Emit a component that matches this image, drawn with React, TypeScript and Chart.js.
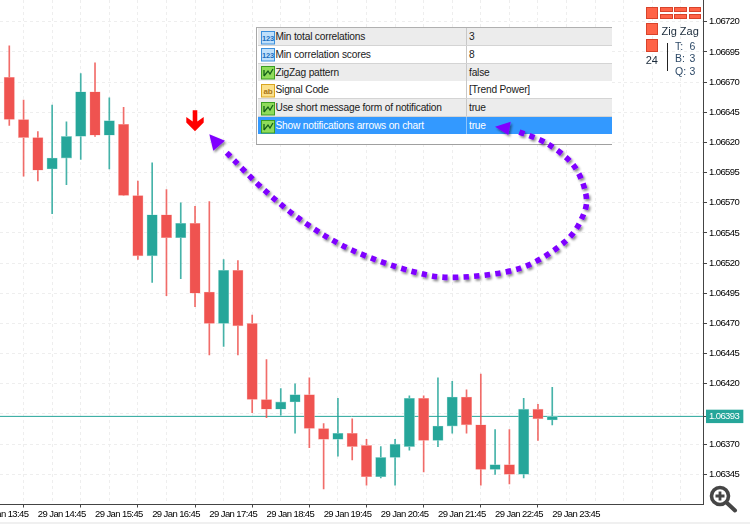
import React, { useEffect, useRef } from "react";
import { Chart, registerables } from "chart.js";

Chart.register(...registerables);

const UP = "#26A69A";
const DOWN = "#EF5350";
const UP_WICK = "rgba(38,166,154,0.85)";
const DOWN_WICK = "rgba(239,83,80,0.85)";
const AXIS_FONT = '"Liberation Sans", sans-serif';

const opens = [1.06674,1.06639,1.06624,1.06598,1.06607,1.06625,1.06662,1.06626,1.06635,1.06576,1.06526,1.06560,1.06541,1.06553,1.06496,1.06470,1.06514,1.06470,1.06407,1.06399,1.06405,1.06411,1.06383,1.06374,1.06379,1.06369,1.06343,1.06359,1.06368,1.06408,1.06373,1.06385,1.06409,1.06386,1.06349,1.06353,1.06345,1.06399,1.06390];
const closes = [1.06639,1.06624,1.06597,1.06607,1.06625,1.06662,1.06626,1.06638,1.06576,1.06526,1.06560,1.06541,1.06553,1.06495,1.06470,1.06514,1.06468,1.06407,1.06399,1.06405,1.06411,1.06383,1.06374,1.06379,1.06368,1.06343,1.06359,1.06370,1.06408,1.06373,1.06385,1.06409,1.06386,1.06349,1.06353,1.06345,1.06399,1.06391,1.06393];
const highs = [1.06700,1.06655,1.06629,1.06651,1.06637,1.06677,1.06686,1.06657,1.06649,1.06588,1.06603,1.06581,1.06570,1.06567,1.06571,1.06523,1.06522,1.06477,1.06440,1.06416,1.06420,1.06425,1.06387,1.06408,1.06391,1.06374,1.06368,1.06374,1.06410,1.06410,1.06425,1.06422,1.06415,1.06428,1.06382,1.06382,1.06408,1.06403,1.06417];
const lows = [1.06634,1.06592,1.06588,1.06561,1.06585,1.06606,1.06625,1.06598,1.06576,1.06523,1.06504,1.06493,1.06507,1.06484,1.06444,1.06451,1.06444,1.06396,1.06392,1.06394,1.06379,1.06367,1.06333,1.06360,1.06357,1.06336,1.06342,1.06336,1.06365,1.06347,1.06368,1.06379,1.06379,1.06336,1.06345,1.06337,1.06342,1.06373,1.06386];

const currentPrice = 1.06393;
const yTickValues = [1.06345,1.06370,1.06395,1.06420,1.06445,1.06470,1.06495,1.06520,1.06545,1.06570,1.06595,1.06620,1.06645,1.06670,1.06695,1.06720];
const timeLabels = ["29 Jan 13:45","29 Jan 14:45","29 Jan 15:45","29 Jan 16:45","29 Jan 17:45","29 Jan 18:45","29 Jan 19:45","29 Jan 20:45","29 Jan 21:45","29 Jan 22:45","29 Jan 23:45"];

const paramNames = ["Min total correlations","Min correlation scores","ZigZag pattern","Signal Code","Use short message form of notification","Show notifications arrows on chart"];
const paramValues = ["3","8","false","[Trend Power]","true","true"];
const paramKinds = ["num","num","bool","text","bool","bool"];
const statNames = ["T:","B:","Q:"];
const statValues = ["6","3","3"];

const curveA: [number, number][] = [[226.7,152.7],[265,190.7],[306.7,224],[353.3,250.7],[413.3,271.7],[456.7,277.3],[520,268.3],[565,241.7],[583.3,215],[585.7,193.3],[573.3,165],[546.7,143.3],[518.3,131.7]];

function smooth(p: [number, number][]) {
  let d = `M${p[0][0]},${p[0][1]}`;
  for (let i = 0; i < p.length - 1; i++) {
    const a = p[Math.max(i - 1, 0)], b = p[i], c = p[i + 1], e = p[Math.min(i + 2, p.length - 1)];
    d += ` C${b[0] + (c[0] - a[0]) / 6},${b[1] + (c[1] - a[1]) / 6} ${c[0] - (e[0] - b[0]) / 6},${c[1] - (e[1] - b[1]) / 6} ${c[0]},${c[1]}`;
  }
  return d;
}

function ParamIcon({ kind }: { kind: string }) {
  const style: React.CSSProperties = { position: "absolute", left: 3, top: 1.5 };
  if (kind === "num") {
    return (
      <svg width={15} height={15} style={style}>
        <rect x={0.5} y={1.5} width={13} height={12.5} fill="#bfe0fb" stroke="#3b8fdc" />
        <text x={7} y={11} fontSize={7.5} fontWeight="bold" textAnchor="middle" fill="#1c6fc0" fontFamily="Liberation Sans">123</text>
      </svg>
    );
  }
  if (kind === "text") {
    return (
      <svg width={15} height={15} style={style}>
        <rect x={0.5} y={1.5} width={13} height={12.5} fill="#fbe08a" stroke="#d9a520" />
        <text x={7} y={11} fontSize={8} fontWeight="bold" textAnchor="middle" fill="#a9761a" fontFamily="Liberation Sans">ab</text>
      </svg>
    );
  }
  return (
    <svg width={15} height={15} style={style}>
      <rect x={0.5} y={1.5} width={13} height={12.5} fill="#8fdc5a" stroke="#3c9e22" />
      <path d="M3 11 L3 5 M3 11 L7 6 L9 9 L12 4" stroke="#15611a" strokeWidth={1.3} fill="none" />
    </svg>
  );
}

function Square({ x, y, w, h }: { x: number; y: number; w: number; h: number }) {
  return <div style={{ position: "absolute", left: x, top: y, width: w, height: h, boxSizing: "border-box", background: "#FF6347", border: "1px solid #D8432B" }} />;
}

const tightText = {
  id: "tightText",
  beforeDraw(chart: any) {
    chart.ctx.letterSpacing = "-0.6px";
  },
};

export default function App() {
  const ref = useRef<HTMLCanvasElement>(null);

  useEffect(() => {
    const idx = opens.map((_, i) => i);
    const chart = new Chart(ref.current as HTMLCanvasElement, {
      type: "bar",
      plugins: [tightText],
      data: {
        datasets: [
          {
            type: "bar",
            data: idx.map((i) => ({ x: i, y: [opens[i], closes[i]] })),
            backgroundColor: idx.map((i) => (closes[i] >= opens[i] ? UP : DOWN)),
            borderColor: idx.map((i) => (closes[i] >= opens[i] ? "rgba(150,215,208,0.9)" : "rgba(250,175,172,0.9)")),
            borderWidth: 0.6,
            borderSkipped: false,
            barThickness: 10.4,
            grouped: false,
            order: 1,
          },
          {
            type: "bar",
            data: idx.map((i) => ({ x: i, y: [lows[i], highs[i]] })),
            backgroundColor: idx.map((i) => (closes[i] >= opens[i] ? UP_WICK : DOWN_WICK)),
            barThickness: 1,
            grouped: false,
            order: 2,
          },
          {
            type: "line",
            data: [{ x: -1, y: currentPrice }, { x: 49, y: currentPrice }],
            borderColor: UP,
            borderWidth: 1,
            pointRadius: 0,
            order: 3,
          },
        ],
      } as any,
      options: {
        animation: false,
        responsive: false,
        events: [],
        layout: { padding: 0 },
        plugins: { legend: { display: false }, tooltip: { enabled: false } },
        scales: {
          x: {
            type: "linear",
            min: -0.65,
            max: 48.55,
            offset: false,
            afterBuildTicks: (s: any) => {
              const t = [];
              for (let v = -2; v <= 48; v += 2) t.push({ value: v });
              s.ticks = t;
            },
            afterFit: (s: any) => {
              s.height = 19.5;
              s.paddingLeft = 0;
              s.paddingRight = 0;
            },
            border: { color: "#444", width: 1, dash: [3, 3] },
            grid: {
              color: "#eeeeee",
              tickLength: 3,
              tickColor: (c: any) => (c.tick && (c.tick.value + 2) % 4 === 0 && c.tick.value <= 38 ? "#444" : "transparent"),
            },
            ticks: {
              autoSkip: false,
              maxRotation: 0,
              minRotation: 0,
              align: "start",
              padding: 1,
              color: "#000",
              font: { family: AXIS_FONT, size: 9.5 },
              callback: (v: any) => timeLabels[(v + 2) / 4] ?? "",
            },
          },
          y: {
            position: "right",
            min: 1.0672 - (504.5 - 21.7) / 120700,
            max: 1.0672 + 21.7 / 120700,
            afterBuildTicks: (s: any) => {
              s.ticks = [...yTickValues, currentPrice].map((value) => ({ value }));
            },
            afterFit: (s: any) => {
              s.width = 47;
              s.paddingTop = 0;
              s.paddingBottom = 0;
            },
            border: { color: "#444", width: 1, dash: [3, 3] },
            grid: {
              color: (c: any) => (c.tick && c.tick.value === currentPrice ? "transparent" : "#eeeeee"),
              tickLength: 4,
              tickColor: (c: any) => (c.tick && c.tick.value === 1.06395 ? "transparent" : "#444"),
            },
            ticks: {
              autoSkip: false,
              padding: 2,
              color: (c: any) => (c.tick && c.tick.value === currentPrice ? "#fff" : "#000"),
              font: { family: AXIS_FONT, size: 9.5 },
              showLabelBackdrop: (c: any) => !!(c.tick && c.tick.value === currentPrice),
              backdropColor: UP,
              backdropPadding: { left: 3, right: 0, top: 1, bottom: 1 },
              callback: (v: any) => (v === 1.06395 ? "" : Number(v).toFixed(5)),
            },
          },
        },
      } as any,
    });
    return () => chart.destroy();
  }, []);

  return (
    <div style={{ position: "absolute", left: 0, top: 0, width: 750, height: 524, overflow: "hidden", background: "#fff", fontFamily: '"Liberation Sans", sans-serif' }}>
      <canvas ref={ref} width={750} height={524} style={{ position: "absolute", left: 0, top: 0 }} />

      <div style={{ position: "absolute", left: 256, top: 27, width: 356, height: 117.5, boxSizing: "border-box", background: "#fff", borderLeft: "1px solid #a8a8a8", borderTop: "1px solid #b0b0b0", borderBottom: "1.5px solid #a0a0a0" }}>
        {paramNames.map((name, i) => {
          const sel = i === paramNames.length - 1;
          return (
            <div key={name} style={{ position: "absolute", left: 1, right: 0, top: i * 17.83, height: 17, background: sel ? "#3399FF" : i % 2 === 0 ? "#ECECEC" : "#fff", borderBottom: sel ? "none" : "1px solid #d4d4d4", color: sel ? "#fff" : "#1a1a1a", fontSize: 10.2, letterSpacing: "-0.2px", lineHeight: "17px" }}>
              <ParamIcon kind={paramKinds[i]} />
              <span style={{ position: "absolute", left: 17.5, whiteSpace: "nowrap" }}>{name}</span>
              <div style={{ position: "absolute", left: 208, top: 0, bottom: 0, width: 1, background: sel ? "#8cc4fb" : "#c8c8c8" }} />
              <span style={{ position: "absolute", left: 211, whiteSpace: "nowrap" }}>{paramValues[i]}</span>
            </div>
          );
        })}
      </div>

      <svg width={750} height={524} style={{ position: "absolute", left: 0, top: 0, pointerEvents: "none" }}>
        <defs>
          <filter id="sh" x="-10%" y="-10%" width="120%" height="120%">
            <feDropShadow dx={1.5} dy={2} stdDeviation={1.3} floodColor="#000" floodOpacity={0.45} />
          </filter>
        </defs>
        <g filter="url(#sh)">
          <path d={smooth(curveA)} fill="none" stroke="#7F00FF" strokeWidth={5.6} strokeDasharray="5.4 5.2" />
          <polygon points="209.3,134.3 225,140.7 213.3,150.7" fill="#7F00FF" />
          <polygon points="495,126.7 510.7,121.7 508.3,135" fill="#7F00FF" />
        </g>
        <polygon points="192.7,110.3 197.3,110.3 197.3,121.5 203.7,117 203.7,122.5 195,131.3 186.3,122.5 186.3,117 192.7,121.5" fill="#FF0000" />
        <circle cx={720} cy={496} r={8.5} fill="#fff" stroke="#454545" strokeWidth={3.6} />
        <path d="M715.5 496 H724.5 M720 491.5 V500.5" stroke="#454545" strokeWidth={2.8} />
        <path d="M727 503 L735 510.5" stroke="#454545" strokeWidth={4} strokeLinecap="round" />
      </svg>

      <Square x={645.7} y={7.3} w={12.5} h={12} />
      {[660, 674.3, 688.7].map((x) => [7.3, 14.3].map((y) => <Square key={`${x}-${y}`} x={x} y={y} w={12.7} h={5.2} />))}
      <Square x={645.7} y={23.3} w={12.5} h={12} />
      <Square x={645.7} y={39.4} w={12.5} h={12.3} />
      <div style={{ position: "absolute", left: 661.5, top: 23, fontSize: 11, lineHeight: "16px", color: "#1a2a3a", whiteSpace: "nowrap" }}>Zig Zag</div>
      <div style={{ position: "absolute", left: 645.7, top: 52, fontSize: 11, lineHeight: "16px", color: "#1a2a3a" }}>24</div>
      <div style={{ position: "absolute", left: 667, top: 42.7, width: 1, height: 28.5, background: "#222" }} />
      {statNames.map((n, i) => (
        <React.Fragment key={n}>
          <div style={{ position: "absolute", left: 675, top: 39.5 + i * 12.5, fontSize: 10.5, lineHeight: "13px", color: "#2e4a68" }}>{n}</div>
          <div style={{ position: "absolute", left: 689.5, top: 39.5 + i * 12.5, fontSize: 10.5, lineHeight: "13px", color: "#2e4a68" }}>{statValues[i]}</div>
        </React.Fragment>
      ))}
      <div style={{ position: "absolute", left: 0, top: 522, width: 750, height: 2, background: "#f0f0f0" }} />
    </div>
  );
}
